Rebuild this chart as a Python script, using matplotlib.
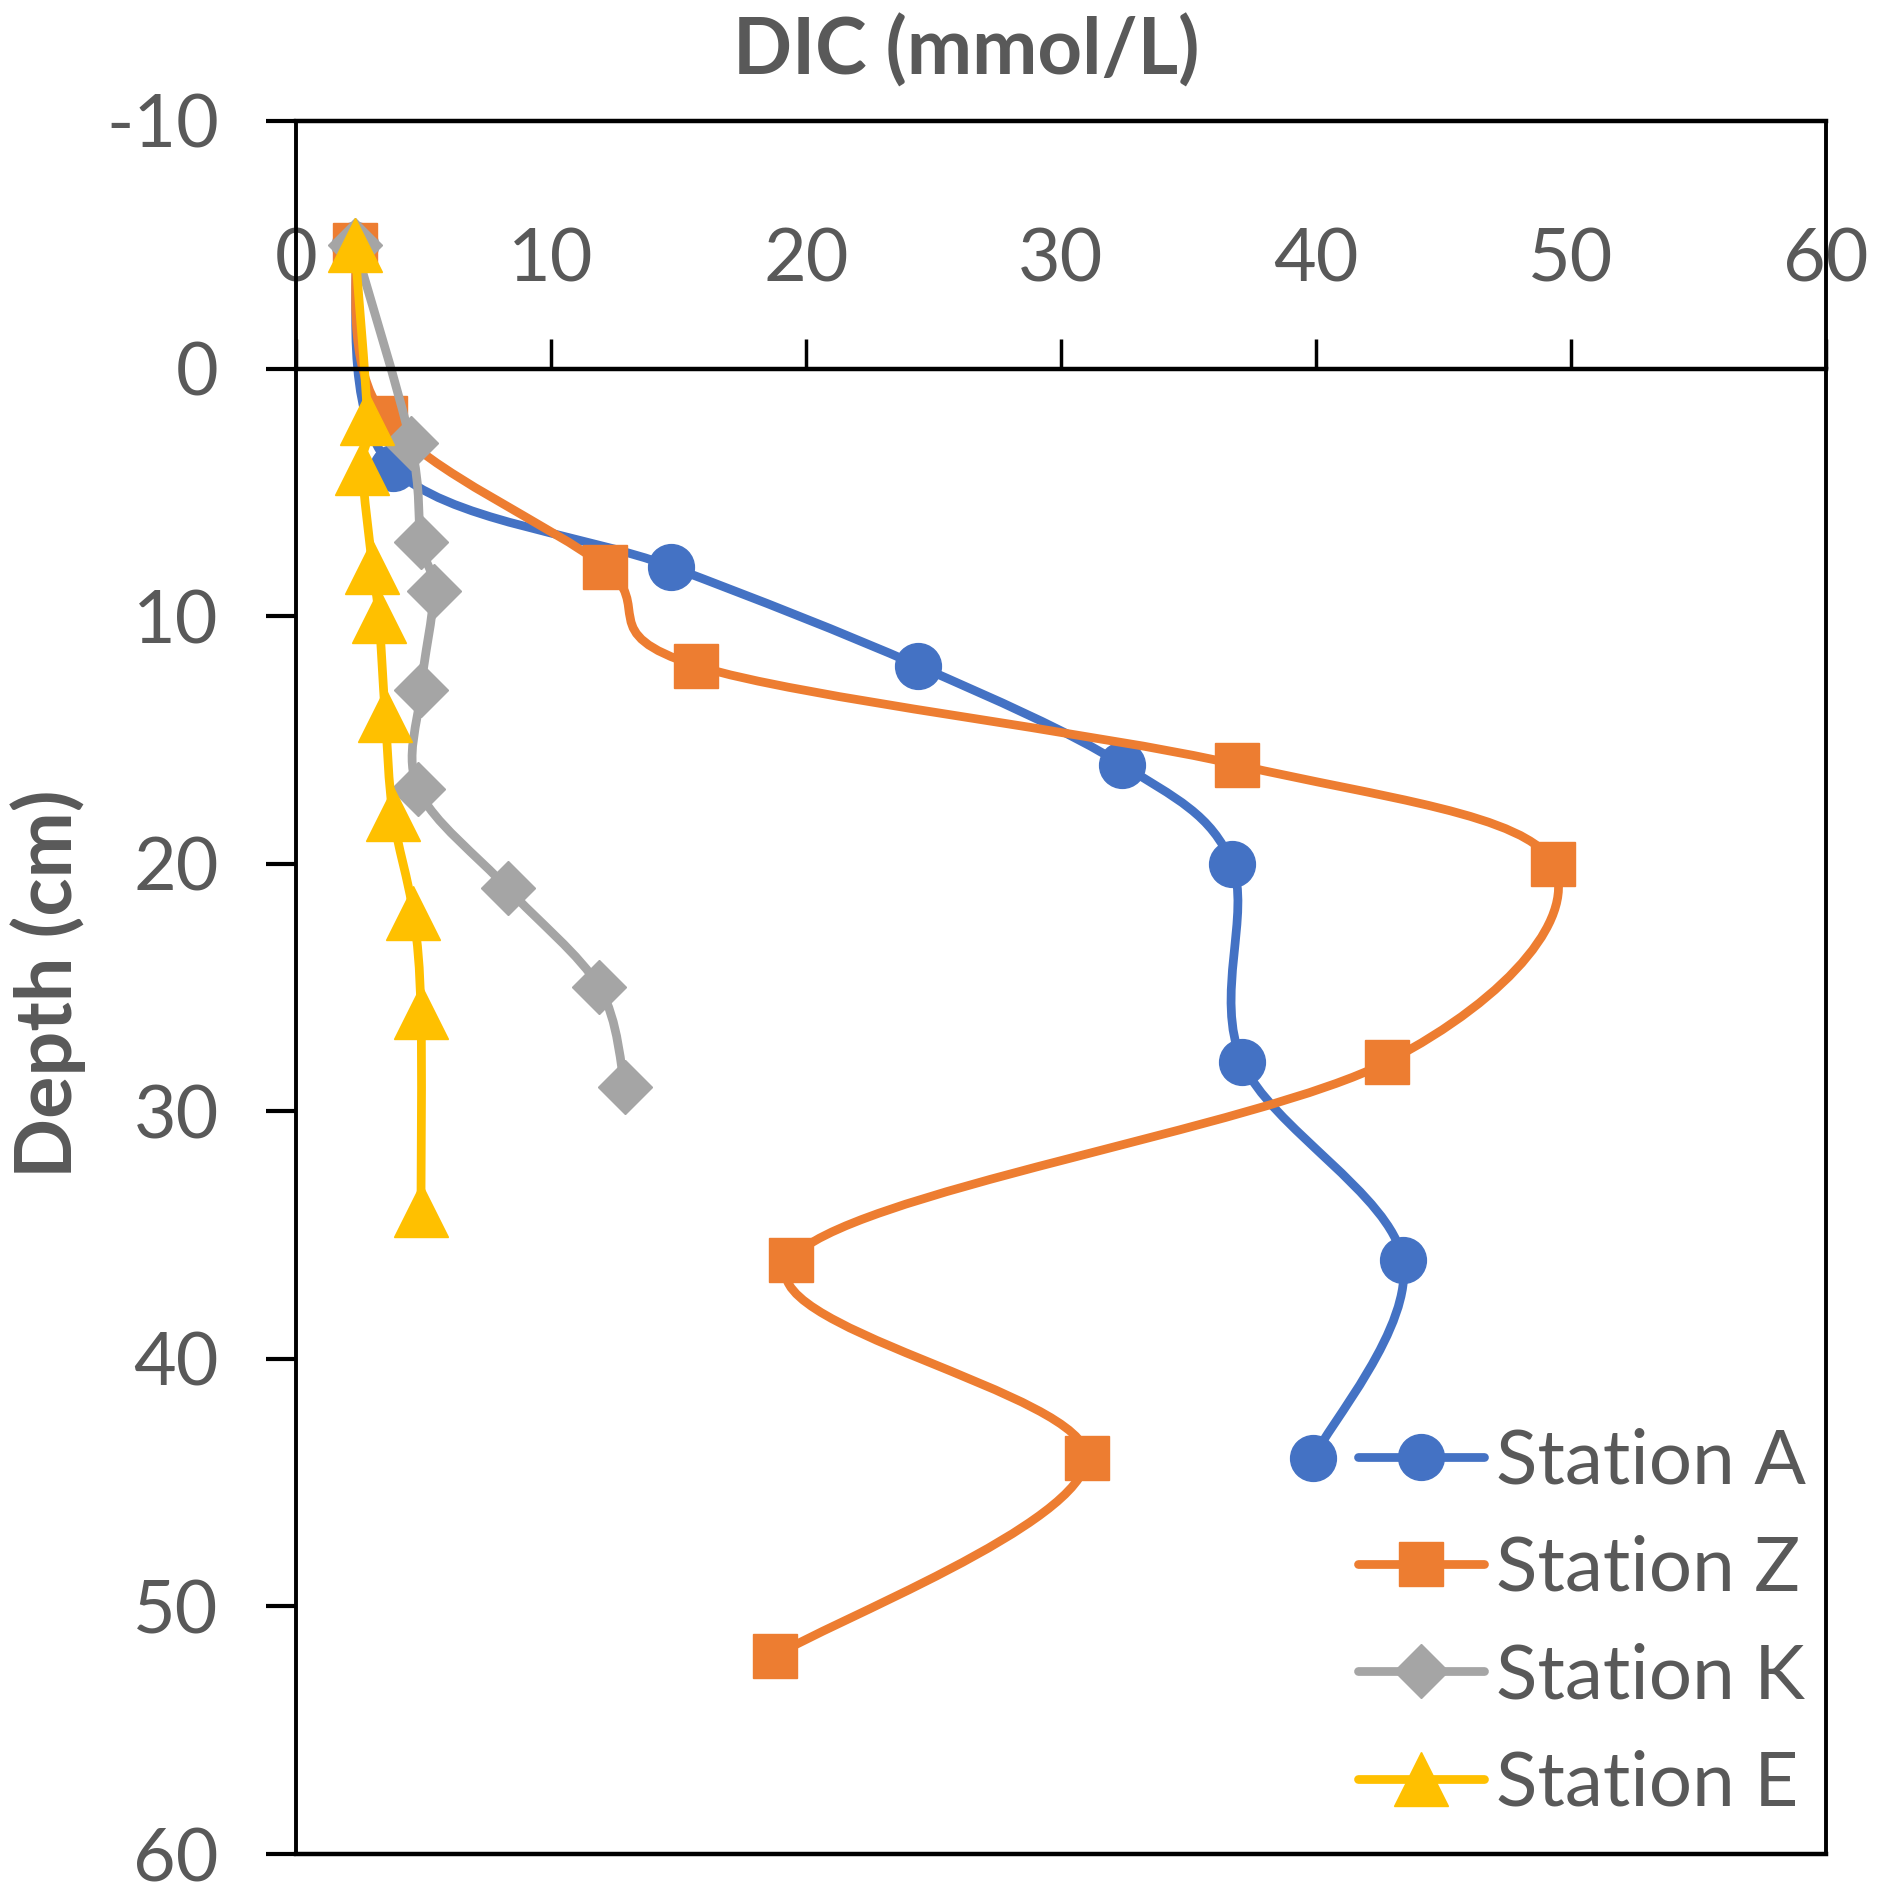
import numpy as np
import matplotlib
matplotlib.use("Agg")
import matplotlib.pyplot as plt
from matplotlib.path import Path
from matplotlib.patches import PathPatch
from matplotlib.lines import Line2D

# DIC (mmol/L) against sediment depth (cm)
depth_a = [-5, 4, 8, 12, 16, 20, 28, 36, 44]
dic_a = [2.3, 3.8, 14.7, 24.4, 32.4, 36.7, 37.1, 43.4, 39.9]

depth_z = [-5, 2, 8, 12, 16, 20, 28, 36, 44, 52]
dic_z = [2.3, 3.5, 12.1, 15.7, 36.9, 49.3, 42.8, 19.4, 31.0, 18.8]

depth_k = [-5, 3, 7, 9, 13, 17, 21, 25, 29]
dic_k = [2.3, 4.5, 4.9, 5.4, 4.9, 4.8, 8.3, 11.9, 12.9]

depth_e = [-5, 2, 4, 8, 10, 14, 18, 22, 26, 34]
dic_e = [2.3, 2.8, 2.6, 3.0, 3.25, 3.5, 3.8, 4.6, 4.9, 4.9]

x_ticks = [0, 10, 20, 30, 40, 50, 60]
y_ticks = [-10, 0, 10, 20, 30, 40, 50, 60]

TXT = "#595959"
PX = 72 / 100  # points per pixel at dpi 100

plt.rcParams["font.family"] = ["Lato", "DejaVu Sans"]
plt.rcParams["axes.unicode_minus"] = False

SERIES = [
    ("Station A", dic_a, depth_a, "#4472C4", "o", 33),
    ("Station Z", dic_z, depth_z, "#ED7D31", "s", 31),
    ("Station K", dic_k, depth_k, "#A5A5A5", "D", 28),
    ("Station E", dic_e, depth_e, "#FFC000", "^", 39),
]


def smooth_path(x, y):
    # Excel-style smoothed line: cubic Bezier through every point
    p = np.column_stack([x, y]).astype(float)
    n = len(p)
    verts, codes = [p[0]], [Path.MOVETO]
    for i in range(n - 1):
        p0 = p[i - 1] if i > 0 else p[i]
        p3 = p[i + 2] if i + 2 < n else p[i + 1]
        verts += [p[i] + (p[i + 1] - p0) / 6, p[i + 1] - (p3 - p[i]) / 6, p[i + 1]]
        codes += [Path.CURVE4] * 3
    return Path(verts, codes)


fig = plt.figure(figsize=(18.83, 18.94), dpi=100)
ax = fig.add_axes([296 / 1883, 40 / 1894, 1530 / 1883, 1733 / 1894])

handles = []
for i, (name, xv, yv, col, mk, ms) in enumerate(SERIES):
    ax.add_patch(PathPatch(smooth_path(xv, yv), fill=False, ec=col, lw=6.3,
                           capstyle="round", joinstyle="round", zorder=3 + 2 * i))
    ax.plot(xv, yv, ls="none", marker=mk, ms=ms, mfc=col, mec=col, mew=1,
            zorder=4 + 2 * i)
    handles.append(Line2D([], [], color=col, lw=6.3, marker=mk, ms=ms, mfc=col,
                          mec=col, mew=1, solid_capstyle="round"))

ax.set_xlim(0, 60)
ax.set_ylim(60, -10)
ax.set_xticks(x_ticks)
ax.set_yticks(y_ticks)

# x axis crosses at depth 0, labels above it
ax.spines["top"].set_position(("data", 0))
ax.xaxis.tick_top()
ax.axhline(-10, color="black", lw=3.2, clip_on=False, zorder=20)
for s in ax.spines.values():
    s.set_linewidth(2.8)
    s.set_color("black")
ax.spines["top"].set_linewidth(3.2)
ax.spines["bottom"].set_linewidth(3.2)
ax.spines["top"].set_zorder(20)

ax.tick_params(axis="x", direction="out", length=30 * PX, width=2.5,
               pad=32, labelsize=53, labelcolor=TXT, top=True, bottom=False)
ax.tick_params(axis="y", direction="out", length=30 * PX, width=3,
               pad=34, labelsize=53, labelcolor=TXT)

fig.text(966 / 1883, 1 - 51 / 1894, "DIC (mmol/L)", ha="center", va="center",
         fontsize=56, fontweight="bold", color=TXT)
fig.text(48 / 1883, 1 - 984 / 1894, "Depth (cm)", rotation=90, ha="center",
         va="center", fontsize=57, fontweight="bold", color=TXT)

ax.legend(handles, [s[0] for s in SERIES], loc="center",
          bbox_to_anchor=(1582 / 1883, 1 - 1623 / 1894),
          bbox_transform=fig.transFigure, frameon=False, fontsize=55,
          labelcolor=TXT, handlelength=1.65, handletextpad=0.15,
          labelspacing=0.5, borderpad=0)

fig.savefig("out.png", dpi=100)
